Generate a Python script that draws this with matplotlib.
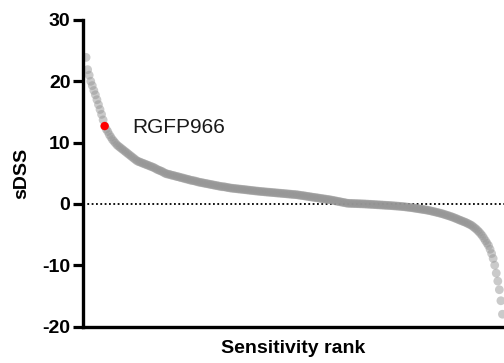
import numpy as np
import matplotlib
matplotlib.use("Agg")
import matplotlib.pyplot as plt

# sDSS of each compound, ordered by sensitivity rank (most sensitive first)
sdss = [
    23.9, 21.9, 21.0, 20.0, 19.3, 18.5, 17.8, 17.0, 16.2, 15.4,
    14.6, 13.7, 12.7, 12.2, 11.8, 11.3, 10.9, 10.5, 10.2, 9.9,
    9.6, 9.4, 9.2, 9.0, 8.8, 8.6, 8.4, 8.2, 8.0, 7.8,
    7.6, 7.4, 7.2, 7.0, 6.9, 6.8,
    6.7, 6.6, 6.5, 6.4, 6.3, 6.2, 6.1, 6.0, 5.9, 5.75, 5.6, 5.5, 5.4, 5.3,
    5.15, 5.0, 4.9,
    4.85, 4.8, 4.7, 4.65, 4.6, 4.5, 4.45, 4.4, 4.3, 4.25, 4.2, 4.1, 4.05,
    4.0, 3.9, 3.85, 3.8, 3.75, 3.7, 3.6, 3.55, 3.5,
    3.45, 3.4, 3.35, 3.3, 3.25, 3.2, 3.15, 3.1, 3.05, 3.0, 2.95, 2.9, 2.85,
    2.8, 2.8, 2.75, 2.7, 2.65, 2.6,
    2.57, 2.54, 2.51, 2.48, 2.45, 2.42, 2.4, 2.37, 2.34, 2.31, 2.28, 2.25,
    2.22, 2.19, 2.16, 2.13, 2.1, 2.08, 2.05, 2.02, 2.0,
    1.98, 1.95, 1.93, 1.91, 1.89, 1.86, 1.84, 1.82, 1.79, 1.77, 1.75, 1.73,
    1.7, 1.68, 1.66, 1.63, 1.61, 1.59, 1.56, 1.54, 1.52, 1.5,
    1.46, 1.42, 1.38, 1.35, 1.31, 1.27, 1.23, 1.19, 1.15, 1.11, 1.07, 1.04,
    1.0, 0.96, 0.92, 0.88, 0.84, 0.8, 0.77, 0.73, 0.69, 0.65,
    0.6, 0.55, 0.5, 0.45, 0.4, 0.35, 0.3, 0.25, 0.2, 0.15, 0.1,
    0.09, 0.08, 0.07, 0.06, 0.05, 0.04, 0.03, 0.02, 0.01, 0.0,
    -0.01, -0.03, -0.04, -0.06, -0.07, -0.09, -0.1, -0.12, -0.14, -0.15,
    -0.17, -0.18, -0.2, -0.22, -0.23, -0.25, -0.26, -0.28, -0.3,
    -0.32, -0.34, -0.36, -0.38, -0.4, -0.42, -0.45, -0.48, -0.51, -0.54,
    -0.57, -0.6, -0.64, -0.68, -0.72, -0.76, -0.8, -0.84, -0.88, -0.92,
    -0.96, -1.0,
    -1.05, -1.1, -1.16, -1.22, -1.28, -1.34, -1.4, -1.47, -1.53, -1.6,
    -1.68, -1.76, -1.84, -1.92, -2.0, -2.09, -2.18, -2.28, -2.38, -2.49, -2.6,
    -2.7, -2.8, -2.9, -3.0, -3.12, -3.24, -3.37, -3.5, -3.7,
    -3.9, -4.1, -4.35, -4.6, -4.9, -5.2, -5.6, -6.0, -6.4, -6.8, -7.4, -8.1,
    -8.9, -10.0, -11.3, -12.6, -14.0, -15.8, -18.0,
]

# highlighted compound and its rank (1-based)
highlight_name = "RGFP966"
highlight_rank = 13

y_ticks = [-20, -10, 0, 10, 20, 30]

plt.rcParams["font.family"] = ["Liberation Sans", "DejaVu Sans"]
plt.rcParams["axes.unicode_minus"] = False

rank = np.arange(1, len(sdss) + 1)
values = np.array(sdss)

fig = plt.figure(figsize=(5.04, 3.63), dpi=100)
ax = fig.add_axes([83 / 504, 36.5 / 363, 421 / 504, 306.5 / 363])

ax.axhline(0, color="black", lw=1.3, ls=(0, (1, 1.4)), zorder=1)
ax.scatter(rank, values, s=40, color="#969696", alpha=0.5,
           edgecolors="none", zorder=2)

hx = highlight_rank
hy = values[highlight_rank - 1]
ax.scatter([hx], [hy], s=36, color="#ff0000", edgecolors="none", zorder=3)
ax.annotate(highlight_name, xy=(hx, hy), xytext=(20, -4.8),
            textcoords="offset points", ha="left", va="baseline",
            fontsize=15, color="#1a1a1a")

ax.set_xlim(-1, len(sdss) + 1)
ax.set_ylim(-20, 30)
ax.set_yticks(y_ticks)
ax.set_xticks([])

for side in ("top", "right"):
    ax.spines[side].set_visible(False)
for side in ("left", "bottom"):
    ax.spines[side].set_linewidth(2.4)

ax.tick_params(axis="y", direction="out", length=7, width=2.3, pad=2,
               labelsize=14)
for lbl in ax.get_yticklabels():
    lbl.set_fontweight("bold")

ax.set_ylabel("sDSS", fontsize=14, fontweight="bold", labelpad=9)
ax.set_xlabel("Sensitivity rank", fontsize=14, fontweight="bold",
              labelpad=10)

fig.savefig("out.png", dpi=100)
